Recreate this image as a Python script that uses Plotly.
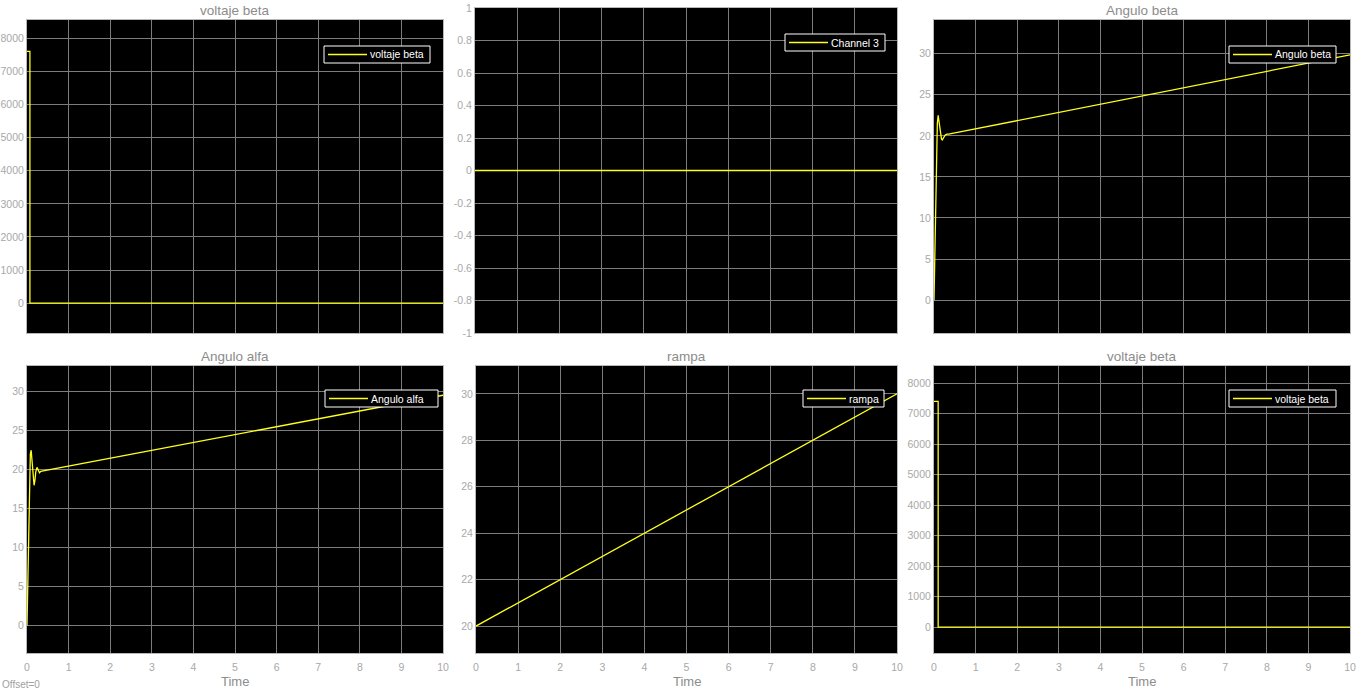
import plotly.graph_objects as go

# ---- data ----
t_volt1 = [0, 0.07, 0.07, 10]
v_volt1 = [7600, 7600, 0, 0]

t_ch3 = [0, 10]
v_ch3 = [0, 0]

t_beta = [0, 0.02, 0.04, 0.06, 0.08, 0.1, 0.12, 0.15, 0.18, 0.2, 0.23, 0.27, 0.31, 0.35, 10]
v_beta = [0, 5, 12, 18, 21.5, 22.5, 21.8, 20.3, 19.6, 19.5, 19.8, 20.1, 20.2, 20.2, 29.85]

t_alfa = [0, 0.02, 0.04, 0.06, 0.08, 0.1, 0.12, 0.14, 0.17, 0.19, 0.21, 0.24, 0.27, 0.3, 0.33, 10]
v_alfa = [0, 6, 13, 19, 22, 22.5, 21.3, 19.5, 18.0, 18.6, 19.7, 20.3, 19.9, 19.6, 19.8, 29.55]

t_rampa = [0, 10]
v_rampa = [20, 30]

t_volt2 = [0, 0.1, 0.1, 10]
v_volt2 = [7400, 7400, 0, 0]

x_ticks = list(range(0, 11))
y_ticks_volt = [0, 1000, 2000, 3000, 4000, 5000, 6000, 7000, 8000]
y_ticks_ch3 = [-1, -0.8, -0.6, -0.4, -0.2, 0, 0.2, 0.4, 0.6, 0.8, 1]
y_ticks_ang = [0, 5, 10, 15, 20, 25, 30]
y_ticks_ramp = [20, 22, 24, 26, 28, 30]


def labels(vals):
    return [("%g" % v) for v in vals]


W, H = 1366, 691

panels = [
    # name, title, t, v, xdomain px, ydomain px, yrange, yticks, legend box (left, right, top), bottom row
    ("voltaje beta", "voltaje beta", t_volt1, v_volt1, (27, 443), (20, 333), (-900, 8550), y_ticks_volt, (324, 430, 46), False),
    ("Channel 3", "", t_ch3, v_ch3, (475, 897), (8, 333), (-1, 1), y_ticks_ch3, (785, 885, 34), False),
    ("Angulo beta", "Angulo beta", t_beta, v_beta, (934, 1350), (20, 333), (-4, 34.1), y_ticks_ang, (1229, 1336, 46), False),
    ("Angulo alfa", "Angulo alfa", t_alfa, v_alfa, (27, 443), (366, 653), (-3.5, 33.3), y_ticks_ang, (325, 438, 390), True),
    ("rampa", "rampa", t_rampa, v_rampa, (476, 897), (366, 653), (18.84, 31.2), y_ticks_ramp, (803, 884, 390), True),
    ("voltaje beta", "voltaje beta", t_volt2, v_volt2, (934, 1350), (366, 653), (-850, 8560), y_ticks_volt, (1229, 1336, 390), True),
]

fig = go.Figure()
annotations = []
shapes = []
layout = dict(
    width=W, height=H, margin=dict(l=0, r=0, t=0, b=0),
    paper_bgcolor="white", plot_bgcolor="black", showlegend=False,
)

FONT = "Liberation Sans, Arial, Helvetica, sans-serif"
tick_font = dict(family=FONT, size=10.5, color="#a8a8a8")
grid_c = "#7c7c7c"
frame_c = "#b8b8b8"
line_c = "#ffff1a"
LH = 17  # legend box height

for i, (name, title, t, v, xd, yd, yr, yt, lg, bottom) in enumerate(panels):
    k = i + 1
    xa = "x" if k == 1 else f"x{k}"
    ya = "y" if k == 1 else f"y{k}"
    fig.add_trace(go.Scatter(
        x=t, y=v, mode="lines", name=name,
        line=dict(color=line_c, width=1.3),
        xaxis=xa, yaxis=ya,
    ))
    xdom = [xd[0] / W, xd[1] / W]
    ydom = [1 - yd[1] / H, 1 - yd[0] / H]
    layout["xaxis" if k == 1 else f"xaxis{k}"] = dict(
        domain=xdom, range=[0, 10], anchor=ya, automargin=False,
        tickmode="array", tickvals=x_ticks, ticktext=labels(x_ticks),
        showticklabels=bottom, tickfont=tick_font,
        showgrid=True, gridcolor=grid_c, gridwidth=1,
        showline=True, linecolor=frame_c, linewidth=1, mirror=True,
        zeroline=False, ticks="", ticklabelstandoff=4,
    )
    layout["yaxis" if k == 1 else f"yaxis{k}"] = dict(
        domain=ydom, range=list(yr), anchor=xa, automargin=False,
        tickmode="array", tickvals=yt, ticktext=labels(yt),
        tickfont=tick_font,
        showgrid=True, gridcolor=grid_c, gridwidth=1,
        showline=True, linecolor=frame_c, linewidth=1, mirror=True,
        zeroline=False, ticks="", ticklabelstandoff=0,
    )
    # legend box: bordered rectangle, sample line and text
    left, right, top = lg
    shapes.append(dict(
        type="rect", xref="paper", yref="paper", layer="above",
        x0=left / W, x1=right / W, y0=1 - (top + LH) / H, y1=1 - top / H,
        fillcolor="black", line=dict(color="white", width=1),
    ))
    ymid = 1 - (top + LH / 2) / H
    shapes.append(dict(
        type="line", xref="paper", yref="paper", layer="above",
        x0=(left + 4) / W, x1=(left + 43) / W, y0=ymid, y1=ymid,
        line=dict(color=line_c, width=1.3),
    ))
    annotations.append(dict(
        text=name, xref="paper", yref="paper",
        x=(left + 45) / W, y=ymid, xanchor="left", yanchor="middle",
        showarrow=False, borderpad=0,
        font=dict(family=FONT, size=10.5, color="white"),
    ))
    if title:
        annotations.append(dict(
            text=title, xref="paper", yref="paper",
            x=(xd[0] + xd[1]) / 2 / W, y=1 - (yd[0] - 10) / H,
            xanchor="center", yanchor="middle", showarrow=False,
            font=dict(family=FONT, size=13.5, color="#8c8c8c"),
        ))
    if bottom:
        annotations.append(dict(
            text="Time", xref="paper", yref="paper",
            x=(xd[0] + xd[1]) / 2 / W, y=1 - 681 / H,
            xanchor="center", yanchor="middle", showarrow=False,
            font=dict(family=FONT, size=13, color="#8c8c8c"),
        ))

annotations.append(dict(
    text="Offset=0", xref="paper", yref="paper", x=0, y=1 - 684 / H,
    xanchor="left", yanchor="middle", showarrow=False,
    font=dict(family=FONT, size=10, color="#a0a0a0"),
))
layout["annotations"] = annotations
layout["shapes"] = shapes
fig.update_layout(**layout)
fig.write_html("out.html")
